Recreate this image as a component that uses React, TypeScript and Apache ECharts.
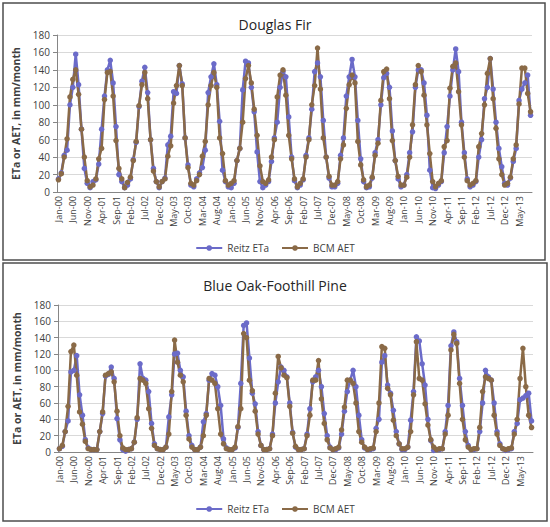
import React, { useEffect, useRef } from "react";
import * as echarts from "echarts";

const MONTHS = ["Jan", "Feb", "Mar", "Apr", "May", "Jun", "Jul", "Aug", "Sep", "Oct", "Nov", "Dec"];
const YEARS = ["00", "01", "02", "03", "04", "05", "06", "07", "08", "09", "10", "11", "12", "13"];
const N_POINTS = 165; // Jan-00 .. Sep-13

const CATEGORIES: string[] = [];
for (const y of YEARS) for (const m of MONTHS) if (CATEGORIES.length < N_POINTS) CATEGORIES.push(`${m}-${y}`);

const Y_TICKS_MAX = 180;
const Y_TICKS_STEP = 20;

// Douglas Fir
const DF_REITZ = [
  15, 22, 42, 48, 100, 120, 158, 123, 72, 27, 10, 5,
  12, 14, 32, 72, 110, 140, 151, 125, 75, 20, 12, 5,
  8, 15, 37, 57, 98, 127, 143, 114, 60, 27, 12, 5,
  12, 16, 54, 64, 115, 113, 145, 124, 62, 31, 8, 6,
  15, 22, 28, 48, 114, 132, 147, 123, 81, 25, 12, 6,
  5, 10, 36, 50, 117, 150, 148, 120, 92, 46, 12, 5,
  8, 12, 35, 62, 80, 120, 138, 132, 86, 40, 13, 5,
  8, 14, 42, 62, 95, 138, 148, 132, 82, 40, 16, 6,
  6, 10, 42, 62, 110, 132, 152, 132, 82, 38, 12, 5,
  6, 16, 45, 60, 100, 131, 136, 120, 70, 36, 15, 6,
  8, 20, 45, 69, 120, 140, 140, 125, 88, 25, 5, 4,
  8, 12, 45, 75, 110, 140, 164, 138, 80, 45, 15, 6,
  8, 12, 40, 60, 107, 120, 153, 118, 80, 50, 29, 10,
  8, 16, 35, 50, 105, 118, 125, 134, 88,
];
const DF_BCM = [
  14, 21, 40, 61, 109, 129, 140, 112, 72, 40, 13, 6,
  8, 15, 38, 50, 106, 137, 138, 110, 59, 27, 15, 5,
  11, 17, 36, 58, 99, 123, 137, 107, 60, 24, 12, 6,
  12, 15, 41, 53, 102, 122, 145, 122, 62, 28, 10, 8,
  13, 20, 41, 58, 100, 122, 137, 120, 62, 44, 13, 8,
  10, 13, 36, 50, 80, 130, 145, 125, 95, 65, 30, 12,
  10, 14, 40, 60, 109, 134, 140, 111, 65, 38, 15, 6,
  10, 15, 40, 60, 100, 122, 165, 118, 62, 40, 18, 8,
  8, 12, 38, 54, 96, 123, 134, 125, 58, 31, 14, 6,
  8, 17, 42, 56, 105, 138, 141, 107, 59, 36, 18, 8,
  8, 17, 40, 77, 123, 145, 138, 111, 77, 44, 12, 6,
  10, 13, 52, 59, 119, 144, 148, 115, 77, 40, 13, 8,
  10, 13, 52, 67, 100, 136, 153, 107, 73, 38, 20, 8,
  10, 17, 38, 54, 101, 142, 142, 113, 92,
];

// Blue Oak-Foothill Pine
const BO_REITZ = [
  4, 7, 25, 38, 98, 100, 118, 70, 45, 15, 5, 3,
  3, 3, 25, 47, 93, 95, 104, 90, 41, 15, 3, 1,
  3, 4, 12, 40, 108, 90, 88, 74, 35, 10, 4, 3,
  3, 6, 43, 70, 120, 121, 100, 92, 50, 20, 8, 3,
  3, 6, 37, 47, 88, 96, 94, 80, 57, 16, 5, 3,
  3, 5, 30, 84, 155, 158, 115, 72, 59, 25, 8, 3,
  3, 4, 22, 60, 86, 104, 100, 92, 60, 24, 6, 3,
  3, 4, 22, 53, 86, 92, 100, 80, 47, 20, 6, 3,
  3, 5, 22, 50, 74, 88, 100, 80, 45, 15, 5, 3,
  3, 4, 29, 40, 110, 118, 82, 72, 51, 25, 10, 3,
  3, 6, 39, 74, 141, 136, 108, 82, 40, 14, 2, 3,
  3, 4, 25, 57, 130, 147, 135, 90, 57, 25, 8, 3,
  3, 4, 25, 60, 100, 92, 88, 60, 25, 10, 4, 2,
  3, 4, 25, 35, 64, 66, 69, 72, 38,
];
const BO_BCM = [
  4, 8, 25, 56, 123, 131, 94, 49, 34, 13, 4, 3,
  3, 3, 25, 49, 94, 96, 98, 86, 50, 20, 5, 3,
  3, 4, 12, 42, 90, 88, 84, 53, 29, 8, 4, 3,
  3, 6, 22, 74, 137, 110, 94, 86, 45, 16, 6, 3,
  3, 6, 20, 45, 90, 88, 84, 53, 22, 10, 4, 3,
  3, 6, 31, 53, 145, 140, 88, 75, 50, 22, 8, 3,
  3, 4, 20, 72, 117, 103, 94, 91, 56, 23, 7, 3,
  3, 4, 20, 45, 88, 88, 112, 65, 35, 15, 5, 3,
  4, 6, 27, 55, 88, 88, 84, 60, 25, 12, 6, 3,
  4, 5, 25, 60, 129, 127, 78, 70, 39, 20, 10, 4,
  4, 6, 25, 70, 135, 90, 88, 59, 33, 15, 6, 3,
  4, 4, 22, 45, 125, 144, 133, 84, 40, 15, 6, 3,
  4, 4, 30, 74, 92, 90, 88, 45, 22, 8, 4, 3,
  4, 5, 22, 40, 90, 127, 80, 45, 30,
];

const REITZ_COLOR = "#6b6bc9";
const BCM_COLOR = "#8a6a47";
const FONT = "'Open Sans', 'Noto Sans', sans-serif";

function makeX(gridIndex: number) {
  return {
    type: "category",
    gridIndex,
    data: CATEGORIES,
    boundaryGap: true,
    axisLine: { lineStyle: { color: "#868686", width: 1 } },
    axisTick: { interval: 4, alignWithLabel: true, length: 4, lineStyle: { color: "#868686" } },
    axisLabel: { interval: 4, rotate: 90, fontSize: 9, color: "#404040", margin: 4, fontFamily: FONT },
    splitLine: { show: false },
  };
}

function makeY(gridIndex: number) {
  return {
    type: "value",
    gridIndex,
    min: 0,
    max: Y_TICKS_MAX,
    interval: Y_TICKS_STEP,
    name: "ETa or AET, in mm/month",
    nameLocation: "middle",
    nameRotate: 90,
    nameGap: 28,
    nameTextStyle: { fontSize: 10.5, fontWeight: "bold", color: "#404040", fontFamily: FONT },
    axisLine: { show: true, lineStyle: { color: "#868686", width: 1 } },
    axisTick: { show: true, length: 4, lineStyle: { color: "#868686" } },
    axisLabel: { fontSize: 10, color: "#404040", margin: 7, fontFamily: FONT },
    splitLine: { lineStyle: { color: "#d9d9d9", width: 1 } },
  };
}

function makeSeries(name: string, data: number[], color: string, idx: number) {
  return {
    name,
    type: "line",
    xAxisIndex: idx,
    yAxisIndex: idx,
    data,
    symbol: "circle",
    symbolSize: 5.5,
    showSymbol: true,
    showAllSymbol: true,
    lineStyle: { color, width: 2.5 },
    itemStyle: { color },
  };
}

function legend(top: number) {
  return {
    data: ["Reitz ETa", "BCM AET"],
    top,
    left: "center",
    itemWidth: 26,
    itemHeight: 7,
    itemGap: 12,
    textStyle: { fontSize: 10, color: "#404040", fontFamily: FONT },
  };
}

export default function App() {
  const ref = useRef<HTMLDivElement>(null);
  useEffect(() => {
    if (!ref.current) return;
    const chart = echarts.init(ref.current, null, { renderer: "svg" });
    chart.setOption({
      animation: false,
      backgroundColor: "#ffffff",
      textStyle: { fontFamily: FONT },
      title: [
        { text: "Douglas Fir", left: "center", top: 12, textStyle: { fontSize: 14, fontWeight: "normal", color: "#262626", fontFamily: FONT } },
        { text: "Blue Oak-Foothill Pine", left: "center", top: 273, textStyle: { fontSize: 14, fontWeight: "normal", color: "#262626", fontFamily: FONT } },
      ],
      legend: [legend(238), legend(499)],
      grid: [
        { left: 57, top: 35, width: 475, height: 157, containLabel: false },
        { left: 58, top: 305, width: 475, height: 147, containLabel: false },
      ],
      xAxis: [makeX(0), makeX(1)],
      yAxis: [makeY(0), makeY(1)],
      series: [
        makeSeries("Reitz ETa", DF_REITZ, REITZ_COLOR, 0),
        makeSeries("BCM AET", DF_BCM, BCM_COLOR, 0),
        makeSeries("Reitz ETa", BO_REITZ, REITZ_COLOR, 1),
        makeSeries("BCM AET", BO_BCM, BCM_COLOR, 1),
      ],
      graphic: [
        { type: "rect", silent: true, shape: { x: 3, y: 3, width: 542, height: 257 }, style: { fill: "none", stroke: "#4d4d4d", lineWidth: 1.5 } },
        { type: "rect", silent: true, shape: { x: 3, y: 263, width: 544, height: 258 }, style: { fill: "none", stroke: "#4d4d4d", lineWidth: 1.5 } },
      ],
    });
    return () => chart.dispose();
  }, []);
  return (
    <div style={{ position: "absolute", left: 0, top: 0, width: 550, height: 527, background: "#fff" }}>
      <div ref={ref} style={{ width: 550, height: 527 }} />
    </div>
  );
}
